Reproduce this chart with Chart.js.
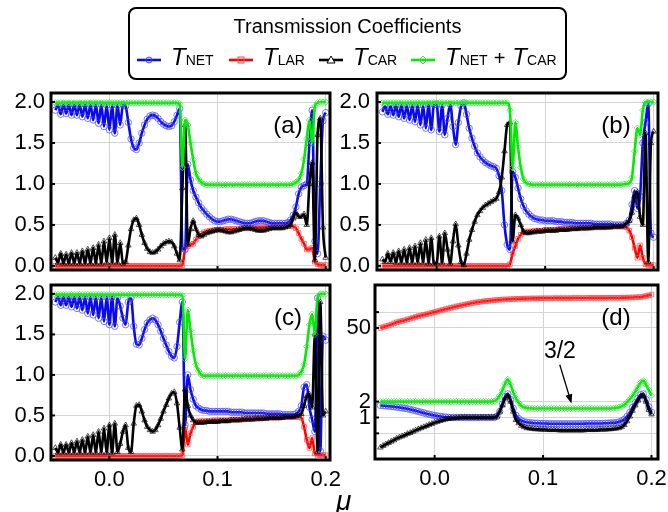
<!DOCTYPE html>
<html>
<head>
<meta charset="utf-8">
<script src="https://cdn.jsdelivr.net/npm/chart.js@4.4.1/dist/chart.umd.min.js"></script>
<style>
  body { margin: 0; background: #fff; width: 668px; height: 512px; overflow: hidden; position: relative;
         font-family: "Liberation Sans", Arial, sans-serif; color: #000; }
  canvas { position: absolute; left: 0; top: 0; }
  .lg-box { position: absolute; left: 128px; top: 7px; width: 439px; height: 73px; box-sizing: border-box;
            border: 2.5px solid #000; border-radius: 8px; }
  .lg-title { position: absolute; left: 128px; width: 439px; top: 14px; text-align: center; font-size: 20px; line-height: 24px; }
  .lg-key { position: absolute; top: 53px; }
  .lg-text { position: absolute; top: 45px; font-size: 24px; line-height: 24px; white-space: nowrap; }
  .lg-text .s { font-size: 14px; font-style: normal; }
  .lg-text .p { font-size: 20px; margin: 0 7px 0 6px; }
  .mu { position: absolute; left: 336px; top: 487px; font-size: 28px; line-height: 28px; font-style: italic; }
</style>
</head>
<body>
<canvas id="pa" width="668" height="512"></canvas>
<canvas id="pb" width="668" height="512"></canvas>
<canvas id="pc" width="668" height="512"></canvas>
<canvas id="pd" width="668" height="512"></canvas>

<div class="lg-box"></div>
<div class="lg-title">Transmission Coefficients</div>
<svg class="lg-key" style="left:137px" width="24" height="14"><line x1="0" y1="7" x2="24" y2="7" stroke="rgb(10,10,235)" stroke-width="2.6"/><circle cx="12" cy="7" r="3" fill="none" stroke="rgb(70,70,255)" stroke-width="1"/></svg>
<div class="lg-text" style="left:171px"><i>T</i><span class="s">NET</span></div>
<svg class="lg-key" style="left:229px" width="24" height="14"><line x1="0" y1="7" x2="24" y2="7" stroke="rgb(255,0,0)" stroke-width="2.6"/><rect x="9" y="4" width="6" height="6" fill="none" stroke="rgb(255,70,70)" stroke-width="1"/></svg>
<div class="lg-text" style="left:263px"><i>T</i><span class="s">LAR</span></div>
<svg class="lg-key" style="left:319px" width="24" height="14"><line x1="0" y1="7" x2="24" y2="7" stroke="#000" stroke-width="2.6"/><polygon points="12,3 16,10 8,10" fill="#fff" stroke="#000" stroke-width="1"/></svg>
<div class="lg-text" style="left:353px"><i>T</i><span class="s">CAR</span></div>
<svg class="lg-key" style="left:411px" width="24" height="14"><line x1="0" y1="7" x2="24" y2="7" stroke="rgb(0,235,0)" stroke-width="2.6"/><polygon points="12,3 16,7 12,11 8,7" fill="none" stroke="rgb(60,230,60)" stroke-width="1"/></svg>
<div class="lg-text" style="left:445px"><i>T</i><span class="s">NET</span><span class="p">+</span><i>T</i><span class="s">CAR</span></div>

<div class="mu">μ</div>

<script>
// chemical potential grid (shared by all panels)
const mu = [
  -0.05,-0.0475,-0.045,-0.0425,-0.04,-0.0375,-0.035,-0.0325,-0.03,-0.0275,
  -0.025,-0.0225,-0.02,-0.0175,-0.015,-0.0125,-0.01,-0.0075,-0.005,-0.0025,
  0,0.0025,0.005,0.0075,0.01,0.0125,0.015,0.0175,0.02,0.0225,
  0.025,0.0275,0.03,0.0325,0.035,0.0375,0.04,0.0425,0.045,0.0475,
  0.05,0.0525,0.055,0.0575,0.06,0.0625,0.065,0.0675,0.07,0.0725,
  0.075,0.0775,0.08,0.0825,0.085,0.0875,0.09,0.0925,0.095,0.0975,
  0.1,0.1025,0.105,0.1075,0.11,0.1125,0.115,0.1175,0.12,0.1225,
  0.125,0.1275,0.13,0.1325,0.135,0.1375,0.14,0.1425,0.145,0.1475,
  0.15,0.1525,0.155,0.1575,0.16,0.1625,0.165,0.1675,0.17,0.1725,
  0.175,0.1775,0.18,0.1825,0.185,0.1875,0.19,0.1925,0.195,0.1975,
  0.2
];

// panel (a)
const aNet = [
  1.90,1.96,1.85,1.97,1.86,1.97,1.84,1.97,1.84,1.97,
  1.82,1.97,1.80,1.97,1.78,1.97,1.74,1.97,1.70,1.96,
  1.66,1.96,1.62,1.96,1.72,1.97,1.95,1.75,1.55,1.44,
  1.42,1.50,1.62,1.72,1.79,1.83,1.84,1.83,1.80,1.76,
  1.73,1.71,1.70,1.71,1.76,1.84,1.92,0.22,0.20,1.24,
  1.05,0.92,0.84,0.77,0.71,0.67,0.63,0.60,0.57,0.55,
  0.54,0.54,0.55,0.56,0.57,0.57,0.56,0.55,0.54,0.53,
  0.52,0.52,0.52,0.53,0.54,0.55,0.55,0.55,0.54,0.53,
  0.52,0.52,0.52,0.52,0.52,0.52,0.53,0.56,0.62,0.72,
  0.88,0.96,0.98,1.00,1.50,1.90,0.30,0.15,1.00,1.77,
  1.87
];
const aLar = [
  0,0,0,0,0,0,0,0,0,0,
  0,0,0,0,0,0,0,0,0,0,
  0,0,0,0,0,0,0,0,0,0,
  0,0,0,0,0,0,0,0,0,0,
  0,0,0,0,0,0,0,0.01,0.20,0.24,
  0.26,0.27,0.32,0.36,0.39,0.41,0.42,0.43,0.43,0.44,
  0.44,0.44,0.44,0.45,0.45,0.45,0.45,0.45,0.45,0.46,
  0.46,0.46,0.46,0.46,0.47,0.47,0.47,0.47,0.47,0.47,
  0.47,0.48,0.48,0.48,0.48,0.49,0.49,0.49,0.48,0.46,
  0.40,0.33,0.27,0.20,0.20,0.22,0.05,0.02,0.01,0.01,
  0.01
];
const aCar = [
  0.10,0.04,0.15,0.03,0.14,0.03,0.16,0.03,0.16,0.03,
  0.18,0.03,0.20,0.03,0.22,0.03,0.26,0.03,0.30,0.04,
  0.34,0.04,0.38,0.04,0.28,0.03,0.05,0.25,0.45,0.56,
  0.58,0.50,0.38,0.28,0.21,0.17,0.16,0.17,0.20,0.24,
  0.27,0.29,0.30,0.29,0.24,0.15,0.07,0.95,1.72,0.26,
  0.45,0.55,0.45,0.38,0.36,0.38,0.40,0.41,0.42,0.43,
  0.44,0.44,0.43,0.42,0.41,0.41,0.42,0.43,0.44,0.45,
  0.46,0.46,0.46,0.45,0.44,0.43,0.43,0.43,0.44,0.45,
  0.46,0.46,0.46,0.46,0.46,0.47,0.48,0.50,0.58,0.65,
  0.60,0.60,0.63,0.50,1.00,1.26,0.07,1.60,1.80,0.47,
  0.10
];
const aSum = [
  1.99,1.99,1.99,1.99,1.99,1.99,1.99,1.99,1.99,1.99,
  1.99,1.99,1.99,1.99,1.99,1.99,1.99,1.99,1.99,1.99,
  1.99,1.99,1.99,1.99,1.99,1.99,1.99,1.99,1.99,1.99,
  1.99,1.99,1.99,1.99,1.99,1.99,1.99,1.99,1.99,1.99,
  1.99,1.99,1.99,1.99,1.99,1.99,1.98,1.20,1.78,1.72,
  1.50,1.30,1.13,1.06,1.02,1.00,0.99,0.99,0.99,0.99,
  0.99,0.99,0.99,0.99,0.99,0.99,0.99,0.99,0.99,0.99,
  0.99,0.99,0.99,0.99,0.99,0.99,0.99,0.99,0.99,0.99,
  0.99,0.99,0.99,0.99,0.99,0.99,0.99,0.99,1.00,1.02,
  1.05,1.13,1.30,1.55,1.78,1.50,1.95,1.99,2.00,2.00,
  2.00
];

// panel (b)
const bNet = [
  1.88,1.95,1.85,1.95,1.84,1.96,1.82,1.96,1.80,1.96,
  1.78,1.96,1.76,1.96,1.72,1.96,1.68,1.97,1.66,1.97,
  1.97,1.64,1.96,1.60,1.80,1.97,1.70,1.48,1.75,1.95,
  1.99,1.85,1.68,1.56,1.46,1.38,1.33,1.29,1.26,1.24,
  1.22,1.21,1.19,1.10,0.92,0.50,0.26,0.20,1.15,1.08,
  0.95,0.82,0.73,0.67,0.63,0.60,0.58,0.57,0.56,0.56,
  0.55,0.55,0.55,0.55,0.54,0.54,0.54,0.53,0.53,0.53,
  0.53,0.52,0.52,0.52,0.52,0.52,0.52,0.52,0.51,0.51,
  0.51,0.51,0.51,0.51,0.51,0.50,0.50,0.50,0.50,0.50,
  0.52,0.56,0.75,0.92,0.70,0.85,1.50,1.75,1.98,0.40,
  0.35
];
const bLar = [
  0,0,0,0,0,0,0,0,0,0,
  0,0,0,0,0,0,0,0,0,0,
  0,0,0,0,0,0,0,0,0,0,
  0,0,0,0,0,0,0,0,0,0,
  0,0,0,0,0,0,0,0.02,0.15,0.24,
  0.33,0.38,0.41,0.42,0.42,0.42,0.43,0.43,0.43,0.43,
  0.44,0.44,0.44,0.44,0.44,0.45,0.45,0.45,0.45,0.45,
  0.46,0.46,0.46,0.46,0.46,0.46,0.47,0.47,0.47,0.47,
  0.47,0.47,0.47,0.48,0.48,0.48,0.48,0.48,0.48,0.48,
  0.47,0.43,0.35,0.22,0.10,0.25,0.10,0.02,0.01,0.01,
  0.01
];
const bCar = [
  0.08,0.05,0.15,0.05,0.16,0.04,0.18,0.04,0.20,0.04,
  0.22,0.04,0.24,0.04,0.28,0.04,0.32,0.03,0.34,0.03,
  0.03,0.36,0.04,0.40,0.20,0.03,0.30,0.51,0.25,0.05,
  0.01,0.15,0.32,0.44,0.54,0.62,0.67,0.71,0.74,0.76,
  0.78,0.80,0.82,0.90,1.08,1.40,1.72,1.75,0.30,0.62,
  0.58,0.50,0.42,0.40,0.40,0.41,0.41,0.42,0.42,0.42,
  0.43,0.43,0.43,0.43,0.43,0.44,0.44,0.44,0.44,0.45,
  0.45,0.45,0.45,0.46,0.46,0.46,0.46,0.46,0.47,0.47,
  0.47,0.47,0.47,0.47,0.47,0.48,0.48,0.48,0.48,0.49,
  0.52,0.55,0.65,0.85,0.90,0.60,0.50,1.62,0.05,1.50,
  1.64
];
const bSum = [
  1.99,1.99,1.99,1.99,1.99,1.99,1.99,1.99,1.99,1.99,
  1.99,1.99,1.99,1.99,1.99,1.99,1.99,1.99,1.99,1.99,
  1.99,1.99,1.99,1.99,1.99,1.99,1.99,1.99,1.99,1.99,
  1.99,1.99,1.99,1.99,1.99,1.99,1.99,1.99,1.99,1.99,
  1.99,1.99,1.99,1.99,1.99,1.99,1.99,1.90,1.20,1.75,
  1.45,1.20,1.06,1.01,1.00,0.99,0.99,0.99,0.99,0.99,
  0.99,0.99,0.99,0.99,0.99,0.99,0.99,0.99,0.99,0.99,
  0.99,0.99,0.99,0.99,0.99,0.99,0.99,0.99,0.99,0.99,
  0.99,0.99,0.99,0.99,0.99,0.99,0.99,0.99,0.99,1.00,
  1.00,1.01,1.08,1.40,1.68,1.60,1.90,2.00,2.00,2.00,
  2.00
];

// panel (c)
const cNet = [
  1.90,1.96,1.86,1.96,1.86,1.96,1.84,1.96,1.82,1.96,
  1.80,1.96,1.76,1.96,1.74,1.96,1.70,1.96,1.66,1.96,
  1.62,1.96,1.60,1.95,1.85,1.70,1.62,1.90,1.95,1.60,
  1.38,1.37,1.45,1.56,1.64,1.68,1.70,1.68,1.62,1.54,
  1.45,1.37,1.29,1.23,1.21,1.35,1.65,1.90,0.38,1.00,
  0.82,0.70,0.62,0.59,0.57,0.56,0.56,0.55,0.55,0.55,
  0.55,0.55,0.55,0.55,0.55,0.54,0.54,0.54,0.54,0.54,
  0.53,0.53,0.53,0.53,0.53,0.53,0.53,0.53,0.52,0.52,
  0.52,0.52,0.52,0.52,0.51,0.51,0.51,0.51,0.51,0.52,
  0.55,0.62,0.85,0.88,0.60,0.45,0.30,1.95,0.06,1.48,
  1.43
];
const cLar = [
  0,0,0,0,0,0,0,0,0,0,
  0,0,0,0,0,0,0,0,0,0,
  0,0,0,0,0,0,0,0,0,0,
  0,0,0,0,0,0,0,0,0,0,
  0,0,0,0,0,0,0,0.01,0.35,0.14,
  0.28,0.36,0.42,0.43,0.43,0.43,0.43,0.43,0.44,0.44,
  0.44,0.44,0.44,0.44,0.44,0.45,0.45,0.45,0.45,0.45,
  0.45,0.46,0.46,0.46,0.46,0.46,0.46,0.47,0.47,0.47,
  0.47,0.47,0.47,0.47,0.48,0.48,0.48,0.48,0.48,0.48,
  0.48,0.47,0.36,0.20,0.10,0.22,0.03,0.01,0.01,0.01,
  0.01
];
const cCar = [
  0.10,0.04,0.14,0.04,0.14,0.04,0.16,0.04,0.18,0.04,
  0.20,0.04,0.24,0.04,0.26,0.04,0.30,0.04,0.34,0.04,
  0.38,0.04,0.40,0.05,0.15,0.30,0.38,0.10,0.05,0.40,
  0.62,0.63,0.55,0.44,0.36,0.32,0.30,0.32,0.38,0.46,
  0.55,0.63,0.71,0.77,0.79,0.65,0.35,0.08,0.82,0.62,
  0.50,0.44,0.41,0.41,0.41,0.41,0.42,0.42,0.42,0.42,
  0.42,0.43,0.43,0.43,0.43,0.44,0.44,0.44,0.44,0.45,
  0.45,0.45,0.45,0.45,0.46,0.46,0.46,0.46,0.46,0.47,
  0.47,0.47,0.47,0.47,0.47,0.48,0.48,0.48,0.48,0.49,
  0.50,0.52,0.62,0.74,0.76,0.60,1.50,0.05,1.90,0.50,
  0.55
];
const cSum = [
  1.99,1.99,1.99,1.99,1.99,1.99,1.99,1.99,1.99,1.99,
  1.99,1.99,1.99,1.99,1.99,1.99,1.99,1.99,1.99,1.99,
  1.99,1.99,1.99,1.99,1.99,1.99,1.99,1.99,1.99,1.99,
  1.99,1.99,1.99,1.99,1.99,1.99,1.99,1.99,1.99,1.99,
  1.99,1.99,1.99,1.99,1.99,1.99,1.99,1.98,1.20,1.80,
  1.55,1.30,1.13,1.05,1.00,0.99,0.99,0.99,0.99,0.99,
  0.99,0.99,0.99,0.99,0.99,0.99,0.99,0.99,0.99,0.99,
  0.99,0.99,0.99,0.99,0.99,0.99,0.99,0.99,0.99,0.99,
  0.99,0.99,0.99,0.99,0.99,0.99,0.99,0.99,0.99,0.99,
  1.00,1.04,1.13,1.35,1.62,1.75,1.50,1.95,2.00,2.00,
  2.00
];

// panel (d), log axis
const dNet = [
  1.69,1.68,1.66,1.64,1.62,1.60,1.57,1.55,1.52,1.49,
  1.46,1.42,1.38,1.34,1.30,1.26,1.22,1.18,1.15,1.12,
  1.09,1.07,1.05,1.03,1.02,1.01,1.00,1.00,1.00,1.00,
  1.00,1.00,1.00,1.00,1.00,1.00,1.00,1.00,1.00,1.00,
  1.00,1.00,1.00,1.05,1.30,1.80,2.50,2.80,2.20,1.50,
  1.10,0.95,0.87,0.83,0.81,0.80,0.79,0.78,0.78,0.77,
  0.77,0.77,0.76,0.76,0.76,0.76,0.76,0.76,0.76,0.76,
  0.76,0.76,0.76,0.76,0.76,0.76,0.77,0.77,0.77,0.77,
  0.77,0.77,0.77,0.78,0.78,0.79,0.79,0.80,0.82,0.86,
  0.92,1.05,1.25,1.55,1.90,2.30,2.70,2.80,2.20,1.60,
  1.26
];
const dLar = [
  50,52,54,56,58,61,64,66,68,70,
  73,75,78,81,84,86,89,91,94,97,
  100,103,107,110,114,117,121,124,128,131,
  135,138,142,145,149,152,155,157,160,162,
  164,166,168,170,171,173,174,175,176,177,
  178,179,180,180,181,181,182,182,182,183,
  183,183,183,183,184,184,184,184,184,184,
  184,185,185,185,185,185,185,186,186,186,
  186,186,186,186,187,187,187,187,187,188,
  188,188,189,190,191,192,194,197,202,208,
  216
];
const dCar = [
  0.27,0.29,0.31,0.33,0.35,0.37,0.40,0.42,0.44,0.46,
  0.49,0.51,0.54,0.57,0.60,0.63,0.66,0.69,0.73,0.76,
  0.80,0.83,0.86,0.89,0.92,0.94,0.96,0.97,0.98,0.99,
  1.00,1.00,1.00,1.00,1.00,1.00,1.00,1.00,1.00,1.00,
  1.00,1.00,1.00,1.05,1.30,1.70,2.30,2.60,2.00,1.30,
  0.90,0.78,0.70,0.66,0.63,0.62,0.61,0.60,0.60,0.59,
  0.59,0.59,0.58,0.58,0.58,0.58,0.57,0.57,0.57,0.57,
  0.57,0.57,0.57,0.57,0.57,0.57,0.58,0.58,0.58,0.58,
  0.58,0.59,0.59,0.59,0.60,0.60,0.61,0.62,0.63,0.66,
  0.72,0.85,1.05,1.35,1.70,2.10,2.50,2.60,2.00,1.40,
  1.15
];
const dSum = [
  2.00,2.00,2.00,2.00,2.00,2.00,2.00,2.00,2.00,2.00,
  2.00,2.00,2.00,2.00,2.00,2.00,2.00,2.00,2.00,2.00,
  2.00,2.00,2.00,2.00,2.00,2.00,2.00,2.00,2.00,2.00,
  2.00,2.00,2.00,2.00,2.00,2.00,2.00,2.00,2.00,2.00,
  2.00,2.00,2.05,2.20,2.60,3.30,4.40,5.30,4.20,3.00,
  2.30,1.90,1.65,1.56,1.52,1.50,1.49,1.48,1.48,1.48,
  1.48,1.48,1.48,1.48,1.48,1.48,1.48,1.48,1.48,1.48,
  1.48,1.48,1.48,1.48,1.48,1.48,1.48,1.48,1.48,1.48,
  1.48,1.48,1.48,1.48,1.48,1.48,1.50,1.52,1.55,1.62,
  1.75,1.95,2.20,2.60,3.10,3.80,4.60,5.00,4.20,3.30,
  2.60
];

// tick labels
const xTicks = [0, 0.1, 0.2];
const yTicks = [0, 0.5, 1, 1.5, 2];
const dTicks = [0.5, 1, 2, 50, 100];
const dTickLabels = [1, 2, 50];

const FONT = '"Liberation Sans", Arial, sans-serif';
Chart.defaults.font.family = FONT;
Chart.defaults.color = '#000';
const GRID = '#d4d4d4';

// thick frame, inner tick marks, panel letter and the 3/2 note
const framePlugin = {
  id: 'frame',
  afterDraw(chart, args, opts) {
    const { ctx, chartArea: a, scales } = chart;
    ctx.save();
    ctx.strokeStyle = '#000';
    ctx.lineWidth = 2;
    scales.x.ticks.forEach(t => {
      const px = scales.x.getPixelForValue(t.value);
      ctx.beginPath(); ctx.moveTo(px, a.bottom); ctx.lineTo(px, a.bottom - 4); ctx.stroke();
    });
    scales.y.ticks.forEach(t => {
      const py = scales.y.getPixelForValue(t.value);
      ctx.beginPath(); ctx.moveTo(a.left, py); ctx.lineTo(a.left + 4, py); ctx.stroke();
    });
    ctx.lineWidth = 3;
    ctx.strokeRect(a.left, a.top, a.right - a.left, a.bottom - a.top);

    ctx.fillStyle = '#000';
    ctx.font = '24px ' + FONT;
    ctx.textAlign = 'center';
    ctx.textBaseline = 'middle';
    ctx.fillText(opts.label, a.right - 42, a.top + 33);

    if (opts.note) {
      const n = opts.note;
      const tx = scales.x.getPixelForValue(n.text[0]), ty = scales.y.getPixelForValue(n.text[1]);
      ctx.font = '23px ' + FONT;
      ctx.fillText(n.label, tx, ty);
      const x0 = scales.x.getPixelForValue(n.from[0]), y0 = scales.y.getPixelForValue(n.from[1]);
      const x1 = scales.x.getPixelForValue(n.to[0]), y1 = scales.y.getPixelForValue(n.to[1]);
      const ang = Math.atan2(y1 - y0, x1 - x0);
      ctx.lineWidth = 1.3;
      ctx.beginPath(); ctx.moveTo(x0, y0); ctx.lineTo(x1 - 6 * Math.cos(ang), y1 - 6 * Math.sin(ang)); ctx.stroke();
      ctx.beginPath();
      ctx.moveTo(x1, y1);
      ctx.lineTo(x1 - 9 * Math.cos(ang) + 3.5 * Math.sin(ang), y1 - 9 * Math.sin(ang) - 3.5 * Math.cos(ang));
      ctx.lineTo(x1 - 9 * Math.cos(ang) - 3.5 * Math.sin(ang), y1 - 9 * Math.sin(ang) + 3.5 * Math.cos(ang));
      ctx.closePath(); ctx.fill();
    }
    ctx.restore();
  }
};

function series(label, ys, line, mark, style, order) {
  return {
    label,
    data: mu.map((x, i) => ({ x, y: ys[i] })),
    borderColor: line,
    borderWidth: 2.6,
    pointStyle: style,
    pointRadius: 3.2,
    pointBorderColor: mark,
    pointBackgroundColor: 'rgba(0,0,0,0)',
    pointBorderWidth: 0.9,
    cubicInterpolationMode: 'monotone',
    order
  };
}

function linearY(yW, pad) {
  return {
    type: 'linear', min: -0.05, max: 2.11,
    afterBuildTicks: s => { s.ticks = yTicks.map(v => ({ value: v })); },
    afterFit: s => { s.width = yW; s.paddingTop = 0; s.paddingBottom = 0; },
    ticks: { autoSkip: false, padding: pad, font: { size: 22 }, callback: v => Number(v).toFixed(1) },
    grid: { color: GRID, drawTicks: false },
    border: { display: false }
  };
}

function logY(yW, pad) {
  return {
    type: 'logarithmic', min: 0.163, max: 327,
    afterBuildTicks: s => { s.ticks = dTicks.map(v => ({ value: v })); },
    afterFit: s => { s.width = yW; s.paddingTop = 0; s.paddingBottom = 0; },
    ticks: { autoSkip: false, padding: pad, font: { size: 22 },
             callback: v => dTickLabels.includes(Number(v)) ? String(v) : '' },
    grid: { color: GRID, drawTicks: false },
    border: { display: false }
  };
}

function panel(id, o) {
  const [l, t, r, b] = o.box;
  return new Chart(document.getElementById(id), {
    type: 'line',
    data: {
      datasets: [
        series('T_NET + T_CAR', o.sum, 'rgb(0,235,0)', 'rgba(60,230,60,0.85)', 'rectRot', 0),
        series('T_CAR', o.car, '#000', 'rgba(0,0,0,0.75)', 'triangle', 1),
        series('T_NET', o.net, 'rgb(10,10,235)', 'rgba(70,70,255,0.8)', 'circle', 2),
        series('T_LAR', o.lar, 'rgb(255,0,0)', 'rgba(255,70,70,0.8)', 'rect', 3)
      ]
    },
    options: {
      responsive: false,
      animation: false,
      events: [],
      devicePixelRatio: 1,
      layout: { padding: { left: l - o.yW, top: t, right: 668 - r, bottom: 512 - b - o.xH } },
      plugins: {
        legend: { display: false },
        tooltip: { enabled: false },
        frame: { label: o.label, note: o.note }
      },
      scales: {
        x: {
          type: 'linear', min: o.xMin, max: o.xMax,
          afterBuildTicks: s => { s.ticks = xTicks.map(v => ({ value: v })); },
          afterFit: s => { s.height = o.xH; s.paddingLeft = 0; s.paddingRight = 0; },
          ticks: { display: o.xLabels, autoSkip: false, maxRotation: 0, padding: 7,
                   font: { size: 22 }, callback: v => Number(v).toFixed(1) },
          grid: { color: GRID, drawTicks: false },
          border: { display: false }
        },
        y: o.y
      }
    },
    plugins: [framePlugin]
  });
}

panel('pa', { box: [51, 93, 330, 270], yW: 51, xH: 4, xMin: -0.054, xMax: 0.204, xLabels: false,
  y: linearY(51, 6), label: '(a)', net: aNet, lar: aLar, car: aCar, sum: aSum });
panel('pb', { box: [377, 93, 658, 270], yW: 60, xH: 4, xMin: -0.055, xMax: 0.204, xLabels: false,
  y: linearY(60, 7), label: '(b)', net: bNet, lar: bLar, car: bCar, sum: bSum });
panel('pc', { box: [51, 285, 330, 460], yW: 51, xH: 40, xMin: -0.054, xMax: 0.204, xLabels: true,
  y: linearY(51, 6), label: '(c)', net: cNet, lar: cLar, car: cCar, sum: cSum });
panel('pd', { box: [375, 285, 658, 459], yW: 60, xH: 40, xMin: -0.055, xMax: 0.206, xLabels: true,
  y: logY(60, 4), label: '(d)', net: dNet, lar: dLar, car: dCar, sum: dSum,
  note: { label: '3/2', text: [0.1155, 17.5], from: [0.1154, 10], to: [0.1262, 1.85] } });
</script>
</body>
</html>
